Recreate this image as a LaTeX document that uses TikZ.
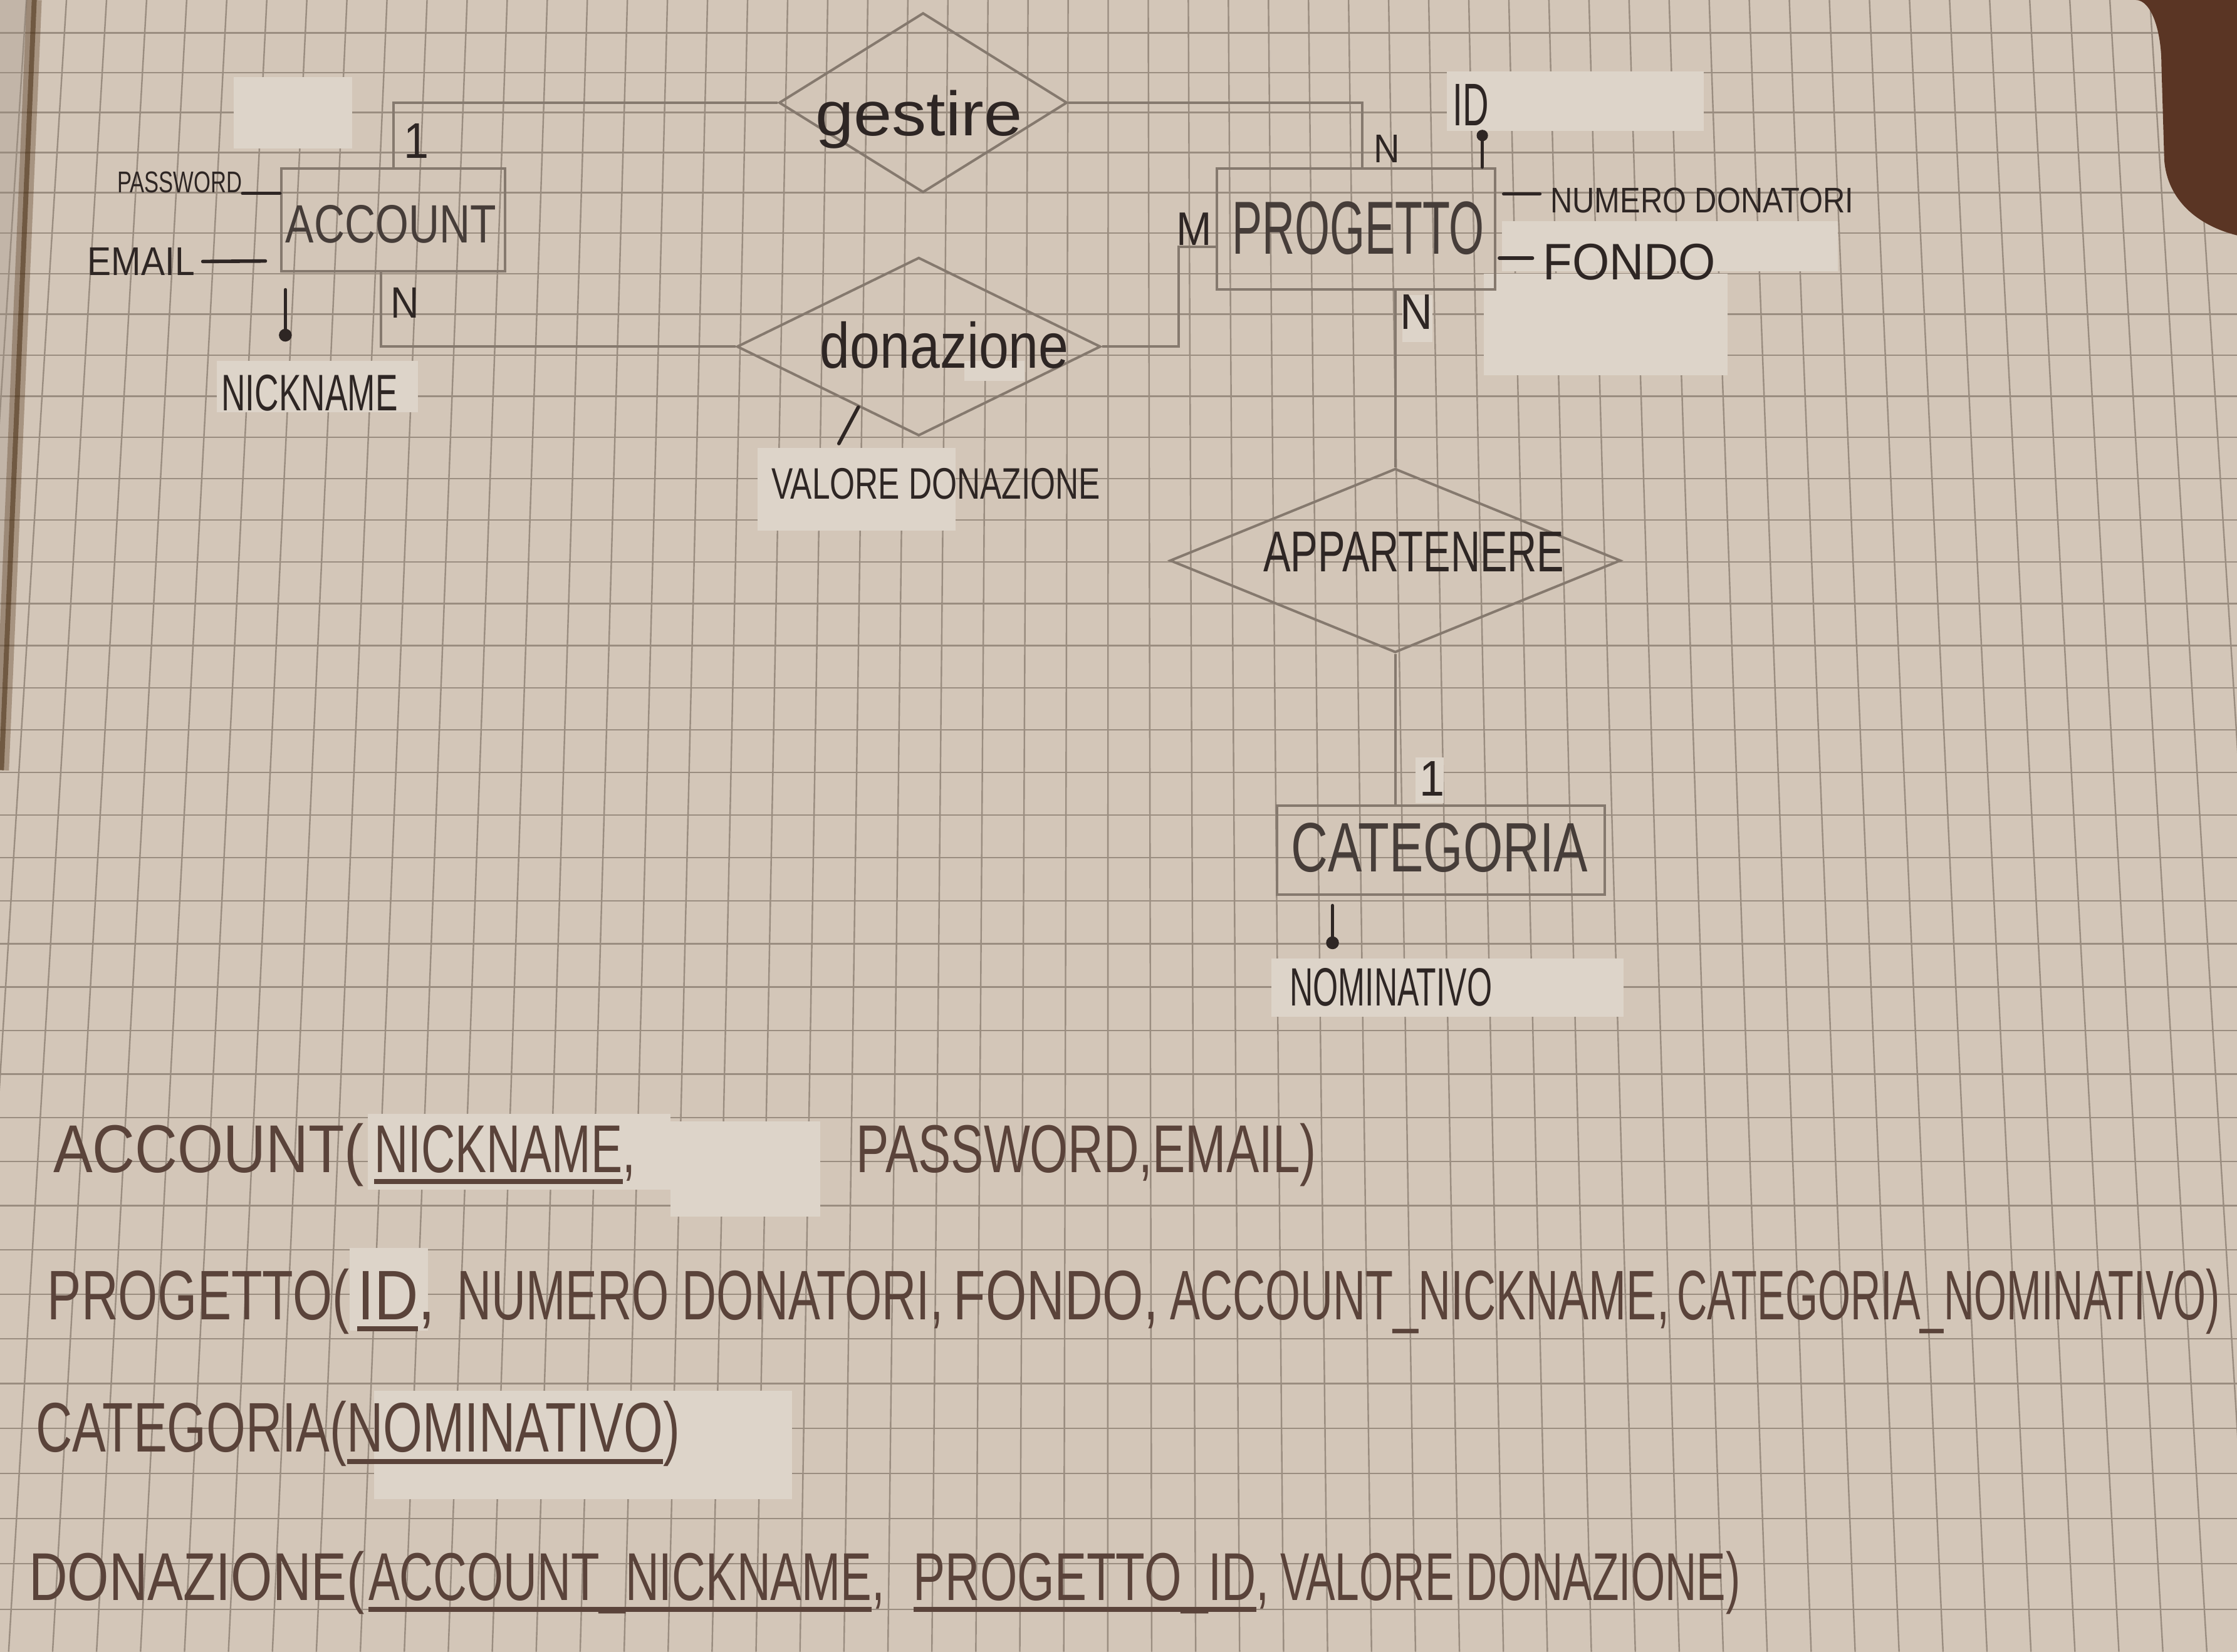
\documentclass[tikz,border=0pt]{standalone}
\usepackage{fontspec}
\setmainfont{Liberation Sans}
\usetikzlibrary{shapes.geometric,calc}

\definecolor{paper}{HTML}{D3C6B8}
\definecolor{leftpage}{HTML}{C2B5A8}
\definecolor{gridc}{HTML}{9A8D80}
\definecolor{tape}{HTML}{DDD4C9}
\definecolor{pencil}{HTML}{85796E}
\definecolor{ink}{HTML}{2E2624}
\definecolor{darkpencil}{HTML}{463D39}
\definecolor{brownink}{HTML}{5A433A}
\definecolor{wood}{HTML}{5A3524}

% handwritten-looking text: horizontal squeeze, font size
\newcommand{\hw}[3]{\scalebox{#1}[1]{\fontsize{#2}{#2}\selectfont #3}}
% key attribute: thick underline
\newcommand{\keyul}[1]{\setbox0=\hbox{#1}\rlap{\rule[-0.17em]{\wd0}{0.07em}}\box0}

\tikzset{
  gridline/.style={draw=gridc, line width=0.6pt},
  patch/.style={fill=tape, draw=none},
  entity/.style={rectangle, draw=pencil, line width=1pt, inner sep=0pt},
  relation/.style={diamond, draw=pencil, line width=1pt, inner sep=0pt},
  link/.style={draw=pencil, line width=1pt},
  attr/.style={draw=ink, line width=1.4pt, line cap=round},
  keydot/.style={fill=ink},
  lbl/.style={anchor=base, inner sep=0pt, text=ink},
  ename/.style={anchor=base, inner sep=0pt, text=darkpencil},
  schema/.style={anchor=base west, inner sep=0pt, text=brownink},
}

\begin{document}
\begin{tikzpicture}[x=0.02cm, y=-0.02cm]
\useasboundingbox (0,0) rectangle (1568,1158);
\begin{scope}
\clip (0,0) rectangle (1568,1158);

% paper
\fill[paper] (0,0) rectangle (1568,1158);
\fill[leftpage] (0,0) -- (22,0) -- (0,520) -- cycle;

% squared ruling, slightly fanned out towards the bottom
\foreach \k in {-8,...,48}{
  \pgfmathsetmacro\xm{186.6+29.5*\k}
  \draw[gridline] ({780+(\xm-780)*0.952},0) -- ({780+(\xm-780)*1.0446},1158);
}
\foreach \k in {-1,...,40}{
  \pgfmathsetmacro\yk{23+27.8*\k+0.056*\k*\k}
  \draw[gridline] (0,\yk) -- (1568,\yk);
}

% shadow between the two pages
\draw[line width=6pt, draw=black!55!brown, opacity=0.35] (24,0) -- (1,540);
\draw[line width=2pt, draw=black!60!brown, opacity=0.6] (24,0) -- (1,540);

% correction tape patches
\fill[patch] (164,54) rectangle (247,104);
\fill[patch] (152,253) rectangle (293,289);
\fill[patch] (1014,50) rectangle (1194,92);
\fill[patch] (1053,155) rectangle (1288,190);
\fill[patch] (1040,192) rectangle (1211,263);
\fill[patch] (983,207) rectangle (1004,240);
\fill[patch] (531,314) rectangle (670,372);
\fill[patch] (676,253) rectangle (718,267);
\fill[patch] (992,531) rectangle (1012,563);
\fill[patch] (891,672) rectangle (1138,713);
\fill[patch] (258,781) rectangle (470,834);
\fill[patch] (470,786) rectangle (575,853);
\fill[patch] (245,875) rectangle (300,933);
\fill[patch] (262,975) rectangle (555,1051);

% table under the rounded page corner
\fill[wood] (1497,0) .. controls (1508,0) and (1515,22) .. (1515,45)
  -- (1517,112) .. controls (1519,140) and (1540,158) .. (1568,165)
  -- (1568,0) -- cycle;
\end{scope}

% ---------- E-R diagram ----------
\node[entity, minimum width=3.14cm, minimum height=1.44cm] (acc) at (275.5,154) {};
\node[entity, minimum width=3.9cm, minimum height=1.7cm] (prog) at (950.5,160.5) {};
\node[entity, minimum width=4.6cm, minimum height=1.24cm] (cat) at (1010,596) {};

\node[relation, minimum width=4.04cm, minimum height=2.52cm] (gest) at (647,72) {};
\node[relation, minimum width=5.1cm, minimum height=2.5cm] (don) at (644,243) {};
\node[relation, minimum width=6.32cm, minimum height=2.58cm] (app) at (978,393) {};

\node[ename] (tacc) at (274,170) {\hw{0.79}{21.5pt}{ACCOUNT}};
\node[ename] (tprog) at (952,178) {\hw{0.6}{30pt}{PROGETTO}};
\node[ename] (tcat) at (1009,611) {\hw{0.73}{27.9pt}{CATEGORIA}};
\node[lbl] (tapp) at (991,401) {\hw{0.71}{23pt}{APPARTENERE}};
\node[lbl] (tgest) at (644,95) {\hw{1.1}{25pt}{gestire}};
\node[lbl] (tdon) at (662,258) {\hw{0.84}{25.6pt}{donazione}};

% connection points of the relationship lines
\coordinate (a1) at (276,0);
\coordinate (a2) at (267,0);
\coordinate (p1) at (955,0);
\coordinate (m1) at (826,173);

% gestire: ACCOUNT (1) -- PROGETTO (N)
\draw[link] (acc.north -| a1) |- (gest.west);
\draw[link] (gest.east) -| (prog.north -| p1);
\node[lbl] (c1) at (292,111) {\hw{0.9}{20pt}{1}};
\node[lbl] (c2) at (972,114) {\hw{0.9}{16pt}{N}};

% donazione: ACCOUNT (N) -- PROGETTO (M)
\draw[link] (acc.south -| a2) |- (don.west);
\draw[link] (don.east) -| (m1) -- (m1 -| prog.west);
\node[lbl] (c3) at (284,223) {\hw{0.9}{17.5pt}{N}};
\node[lbl] (c4) at (837,172) {\hw{0.9}{18.8pt}{M}};

% appartenere: PROGETTO (N) -- CATEGORIA (1)
\draw[link] (app.north |- prog.south) -- (app.north);
\draw[link] (app.south) -- (app.south |- cat.north);
\node[lbl] (c5) at (993,231) {\hw{0.9}{20pt}{N}};
\node[lbl] (c6) at (1004,558) {\hw{0.9}{20pt}{1}};

% attributes of ACCOUNT
\node[lbl] (apw) at (126,135) {\hw{0.72}{12pt}{PASSWORD}};
\draw[attr] (apw.south east) -- (apw.south east -| acc.west);
\node[lbl] (aem) at (99,193) {\hw{0.89}{16pt}{EMAIL}};
\coordinate (emd) at (186,183);
\draw[attr] ([xshift=3pt]aem.east) -- (emd);
\coordinate (nkd) at (200,235);
\draw[attr] ([yshift=-7pt]acc.south -| nkd) -- (nkd);
\fill[keydot] (nkd) circle (4.5);
\node[lbl] (ank) at (217,288) {\hw{0.65}{20.5pt}{NICKNAME}};

% attributes of PROGETTO
\node[lbl] (aid) at (1031,88) {\hw{0.6}{24pt}{ID}};
\coordinate (idd) at (1039,95);
\draw[attr] (idd) -- (idd |- prog.north);
\fill[keydot] (idd) circle (4);
\node[lbl] (anum) at (1193,149) {\hw{0.86}{14.2pt}{NUMERO DONATORI}};
\coordinate (numd) at (1054,136);
\draw[attr] (numd) -- ([xshift=-4pt]anum.west |- numd);
\node[lbl] (afon) at (1142,196) {\hw{0.93}{20.5pt}{FONDO}};
\coordinate (fond) at (1051,181);
\draw[attr] (fond) -- ([xshift=-4pt]afon.west |- fond);

% attribute of CATEGORIA
\coordinate (nomd) at (934,661);
\draw[attr] ([yshift=-4pt]cat.south -| nomd) -- (nomd);
\fill[keydot] (nomd) circle (4.5);
\node[lbl] (anom) at (975,705) {\hw{0.6}{21.5pt}{NOMINATIVO}};

% attribute of donazione
\coordinate (vald) at (588,311);
\draw[attr] ($(don.west)!0.67!(don.south)$) -- (vald);
\node[lbl] (aval) at (656,350) {\hw{0.73}{17.6pt}{VALORE DONAZIONE}};

% ---------- relational schema ----------
\node[schema] (r1a) at (37,822) {\hw{0.87}{27pt}{ACCOUNT(}};
\node[schema] (r1b) at (262,822) {\hw{0.695}{27pt}{\keyul{NICKNAME},}};
\node[schema] (r1c) at (600,822) {\hw{0.725}{27pt}{PASSWORD,EMAIL)}};

\node[schema] (r2a) at (33,925) {\hw{0.725}{28pt}{PROGETTO(}};
\node[schema] (r2b) at (250,925) {\hw{0.87}{28pt}{\keyul{ID},}};
\node[schema] (r2c) at (320,925) {\hw{0.68}{28pt}{NUMERO DONATORI,}};
\node[schema] (r2d) at (668,925) {\hw{0.75}{28pt}{FONDO,}};
\node[schema] (r2e) at (820,925) {\hw{0.643}{28pt}{ACCOUNT\_NICKNAME,}};
\node[schema] (r2f) at (1175,925) {\hw{0.597}{28pt}{CATEGORIA\_NOMINATIVO)}};

\node[schema] (r3) at (25,1018) {\hw{0.72}{28pt}{CATEGORIA(\keyul{NOMINATIVO})}};

\node[schema] (r4a) at (20,1122) {\hw{0.79}{27pt}{DONAZIONE(}};
\node[schema] (r4b) at (258,1122) {\hw{0.69}{27pt}{\keyul{ACCOUNT\_NICKNAME},}};
\node[schema] (r4c) at (640,1122) {\hw{0.708}{27pt}{\keyul{PROGETTO\_ID},}};
\node[schema] (r4d) at (897,1122) {\hw{0.645}{27pt}{VALORE DONAZIONE)}};
\end{tikzpicture}
\end{document}
